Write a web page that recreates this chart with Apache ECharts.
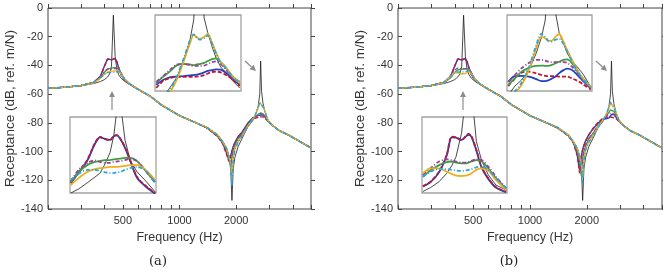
<!DOCTYPE html>
<html>
<head>
<meta charset="utf-8">
<script src="https://cdn.jsdelivr.net/npm/echarts@6/dist/echarts.min.js"></script>
<style>
  html, body { margin: 0; padding: 0; background: #fff; }
  #chart { width: 663px; height: 278px; }
</style>
</head>
<body>
<div id="chart"></div>
<script>
// main plots: frequency grid (Hz) shared by all curves
const freqMain = [200, 250, 300, 350, 380, 400, 415, 425, 435, 445, 455, 465, 475, 490, 510, 540, 600, 700, 800, 1000,
  1200, 1400, 1600, 1700, 1780, 1830, 1870, 1900, 1930, 1970, 2050, 2150, 2300, 2450, 2550, 2620, 2670, 2700, 2730, 2780,
  2850, 2950, 3100, 3400, 3800, 4300, 5000]

// undamped reference (same in both panels)
const blackCurve = [-56.0, -55.2, -54.2, -52.6, -51.2, -49.8, -48.0, -46.0, -40.5, -5.0,
  -34.0, -43.0, -46.5, -49.0, -51.0, -53.0, -56.5, -61.5, -67.5, -75.0,
  -79.5, -83.5, -88.5, -93.0, -97.5, -103.0, -110.0, -134.0, -112.0, -104.0,
  -96.5, -91.0, -83.0, -78.5, -73.5, -68.5, -60.0, -37.0, -58.0, -66.5,
  -72.5, -78.0, -81.5, -85.5, -88.5, -92.5, -97.5]

// panel (a)
const aBlue = [-56.0, -55.1, -54.0, -51.8, -47.5, -40.0, -35.4, -35.9, -36.1, -35.6,
  -35.3, -37.5, -41.5, -46.5, -50.0, -52.8, -56.5, -61.5, -67.5, -75.0,
  -79.5, -83.5, -89.5, -94.3, -101.0, -106.0, -103.0, -99.5, -96.5, -93.5,
  -89.5, -86.5, -80.5, -76.5, -75.5, -75.0, -74.6, -74.4, -74.3, -74.6,
  -76.0, -78.5, -81.5, -85.5, -88.5, -92.5, -97.5]
const aRed = [-56.0, -55.1, -54.0, -51.9, -47.8, -40.3, -35.5, -35.8, -36.0, -35.5,
  -35.2, -37.6, -41.7, -46.6, -50.0, -52.8, -56.5, -61.5, -67.5, -75.0,
  -79.5, -83.5, -89.7, -94.7, -102.0, -107.0, -103.5, -100.0, -97.0, -94.0,
  -90.0, -87.0, -81.0, -77.5, -76.5, -76.3, -76.0, -75.8, -75.6, -75.8,
  -76.8, -78.8, -81.5, -85.5, -88.5, -92.5, -97.5]
const aGreen = [-56.0, -55.1, -54.0, -52.0, -48.5, -44.5, -42.4, -42.0, -41.9, -41.7,
  -41.5, -41.4, -42.3, -45.5, -49.5, -52.6, -56.5, -61.5, -67.5, -75.0,
  -79.5, -83.3, -89.0, -93.8, -99.0, -104.0, -111.0, -104.0, -99.0, -95.5,
  -91.0, -88.0, -82.0, -77.5, -75.5, -74.0, -73.2, -73.0, -73.0, -73.8,
  -75.5, -78.5, -81.5, -85.5, -88.5, -92.5, -97.5]
const aPurple = [-56.0, -55.1, -54.0, -51.9, -48.0, -44.0, -42.6, -42.6, -42.5, -42.3,
  -42.0, -41.7, -42.3, -45.5, -49.5, -52.6, -56.5, -61.5, -67.5, -75.0,
  -79.5, -83.3, -88.8, -93.6, -98.8, -103.5, -110.0, -103.5, -98.5, -95.0,
  -90.8, -87.8, -82.0, -77.6, -75.8, -74.5, -73.8, -73.6, -73.6, -74.2,
  -75.8, -78.6, -81.5, -85.5, -88.5, -92.5, -97.5]
const aOrange = [-56.0, -55.1, -54.1, -52.2, -49.0, -46.0, -44.6, -44.2, -44.0, -43.9,
  -43.8, -43.6, -43.8, -46.0, -49.5, -52.6, -56.5, -61.5, -67.5, -75.0,
  -79.5, -83.1, -88.5, -93.3, -98.0, -103.5, -108.0, -116.0, -105.0, -98.0,
  -93.0, -89.0, -82.5, -77.5, -73.5, -69.5, -66.0, -67.0, -66.0, -68.5,
  -72.5, -78.0, -81.5, -85.5, -88.5, -92.5, -97.5]
const aCyan = [-56.0, -55.1, -54.0, -52.0, -48.5, -46.0, -45.0, -45.0, -45.0, -44.9,
  -44.7, -44.3, -44.2, -46.0, -49.5, -52.6, -56.5, -61.5, -67.5, -75.0,
  -79.5, -83.1, -88.5, -93.3, -98.0, -103.0, -109.0, -124.0, -106.0, -99.0,
  -93.5, -89.5, -83.0, -77.8, -73.3, -69.0, -65.5, -67.0, -66.3, -69.0,
  -72.5, -78.0, -81.5, -85.5, -88.5, -92.5, -97.5]

// panel (b)
const bBlue = [-56.0, -55.1, -54.0, -51.8, -47.5, -40.0, -35.4, -35.8, -36.2, -35.5,
  -35.2, -37.5, -41.5, -46.5, -50.0, -52.8, -56.5, -61.5, -67.5, -75.0,
  -79.5, -83.5, -89.0, -93.8, -102.0, -113.0, -103.0, -98.5, -95.5, -92.5,
  -88.0, -84.5, -80.0, -77.5, -77.0, -76.5, -75.2, -74.2, -73.8, -74.2,
  -76.0, -78.5, -81.5, -85.5, -88.5, -92.5, -97.5]
const bRed = [-56.0, -55.1, -54.0, -51.9, -47.8, -40.3, -35.5, -35.8, -36.0, -35.4,
  -35.1, -37.6, -41.7, -46.6, -50.0, -52.8, -56.5, -61.5, -67.5, -75.0,
  -79.5, -83.5, -89.3, -94.3, -103.0, -115.0, -104.0, -99.0, -96.0, -93.0,
  -88.5, -84.0, -79.5, -76.5, -76.0, -75.8, -75.9, -76.1, -76.3, -76.5,
  -77.0, -78.8, -81.5, -85.5, -88.5, -92.5, -97.5]
const bGreen = [-56.0, -55.1, -54.0, -52.0, -48.5, -44.8, -43.0, -42.6, -42.7, -42.6,
  -42.3, -42.0, -42.4, -45.5, -49.5, -52.6, -56.5, -61.5, -67.5, -75.0,
  -79.5, -83.3, -88.8, -93.6, -100.0, -106.0, -117.0, -105.0, -100.0, -96.0,
  -91.0, -87.5, -82.0, -77.5, -74.5, -72.5, -71.0, -70.5, -70.6, -72.0,
  -74.5, -78.0, -81.5, -85.5, -88.5, -92.5, -97.5]
const bPurple = [-56.0, -55.1, -54.0, -51.8, -47.0, -43.0, -41.8, -41.8, -42.2, -42.3,
  -42.2, -41.8, -42.0, -45.2, -49.5, -52.6, -56.5, -61.5, -67.5, -75.0,
  -79.5, -83.3, -88.7, -93.5, -99.5, -105.0, -116.0, -104.5, -99.5, -95.5,
  -90.8, -87.3, -81.8, -77.3, -75.0, -73.5, -73.0, -73.0, -73.3, -74.0,
  -75.5, -78.3, -81.5, -85.5, -88.5, -92.5, -97.5]
const bOrange = [-56.0, -55.1, -54.1, -52.1, -47.5, -45.0, -45.2, -45.7, -46.0, -46.0,
  -45.6, -44.8, -44.3, -45.8, -49.5, -52.6, -56.5, -61.5, -67.5, -75.0,
  -79.5, -83.1, -88.5, -93.3, -98.0, -103.5, -108.5, -118.0, -106.0, -98.5,
  -93.0, -89.0, -82.5, -77.5, -73.5, -69.5, -66.5, -67.2, -66.2, -68.5,
  -72.5, -78.0, -81.5, -85.5, -88.5, -92.5, -97.5]
const bCyan = [-56.0, -55.1, -54.0, -52.0, -48.0, -45.0, -44.5, -44.5, -44.6, -44.5,
  -44.3, -43.9, -43.7, -45.8, -49.5, -52.6, -56.5, -61.5, -67.5, -75.0,
  -79.5, -83.1, -88.5, -93.3, -98.0, -103.0, -109.0, -122.0, -106.0, -99.0,
  -93.5, -89.5, -83.0, -77.8, -73.3, -68.8, -65.5, -67.0, -67.0, -69.5,
  -73.0, -78.0, -81.5, -85.5, -88.5, -92.5, -97.5]

// zoom insets around first peak (Hz) and second peak (Hz)
const freqInset1 = [352, 370, 390, 408, 420, 430, 443, 452, 459, 466, 478, 490, 506, 524, 548]
const freqInset2 = [2410, 2465, 2520, 2580, 2635, 2685, 2715, 2740, 2765, 2800, 2830, 2865, 2895, 2935, 2980, 3025, 3090]

const a1Black = [-51.0, -49.9, -48.2, -46.6, -45.5, -43.3, -39.9, -35.0, -28.0, -25.0, -36.4, -41.9, -45.2, -47.4, -50.7]
const a1Blue = [-48.3, -45.4, -42.1, -37.4, -35.6, -36.0, -36.3, -35.3, -35.1, -35.9, -38.5, -42.1, -46.8, -49.0, -51.2]
const a1Red = [-48.2, -45.2, -41.9, -37.2, -35.5, -36.1, -36.4, -35.2, -35.0, -35.8, -38.3, -41.9, -46.6, -48.8, -51.0]
const a1Green = [-48.0, -45.2, -43.3, -42.4, -42.2, -41.9, -41.9, -41.7, -41.6, -41.5, -41.3, -41.3, -42.2, -44.6, -48.0]
const a1Purple = [-47.7, -44.6, -42.7, -42.0, -42.4, -42.7, -42.7, -42.4, -42.3, -42.2, -41.9, -41.6, -42.2, -44.6, -48.2]
const a1Orange = [-48.8, -46.9, -45.2, -44.4, -44.1, -44.0, -43.8, -43.8, -43.8, -43.7, -43.5, -43.3, -43.3, -44.4, -47.4]
const a1Cyan = [-47.4, -45.7, -44.6, -44.6, -44.9, -45.2, -45.5, -45.5, -45.3, -45.2, -44.6, -44.1, -43.8, -44.6, -48.0]

const a2Black = [-85.7, -83.6, -81.2, -78.3, -73.8, -68.6, -63.3, -50.0, -40.0, -62.8, -66.7, -70.4, -73.1, -75.7, -77.3, -79.1, -81.2]
const a2Blue = [-80.4, -79.1, -78.4, -78.2, -78.1, -77.9, -77.8, -77.7, -77.5, -77.1, -76.7, -76.5, -76.3, -76.4, -77.3, -78.6, -80.4]
const a2Red = [-81.2, -79.4, -78.6, -78.3, -78.3, -78.3, -78.3, -78.2, -78.1, -77.8, -77.4, -77.0, -76.9, -77.1, -77.8, -78.8, -80.7]
const a2Green = [-80.0, -78.3, -76.9, -75.2, -74.9, -75.0, -75.2, -75.0, -74.9, -74.6, -74.1, -73.6, -73.4, -74.4, -75.9, -78.1, -79.6]
const a2Purple = [-79.6, -78.1, -76.5, -75.0, -74.9, -75.2, -75.4, -75.4, -75.4, -75.3, -74.9, -74.4, -74.2, -74.9, -76.5, -78.3, -79.9]
const a2Orange = [-87.0, -84.6, -82.5, -78.8, -74.1, -69.4, -67.3, -67.8, -68.3, -67.8, -66.9, -69.4, -71.7, -74.4, -75.9, -77.8, -79.9]
const a2Cyan = [-86.5, -84.0, -81.8, -78.0, -73.3, -68.6, -67.1, -68.1, -68.5, -68.1, -67.4, -69.6, -71.9, -74.6, -76.1, -78.0, -80.1]

const b1Black = [-50.6, -49.5, -47.9, -45.6, -43.5, -41.0, -34.5, -25.0, -15.0, -22.0, -36.8, -41.9, -46.0, -48.8, -50.2]
const b1Blue = [-49.2, -48.0, -45.3, -40.7, -35.6, -35.7, -36.3, -35.5, -34.9, -35.4, -39.3, -43.9, -47.1, -49.5, -50.8]
const b1Red = [-49.1, -47.9, -45.1, -40.5, -35.4, -35.6, -36.4, -35.4, -34.7, -35.2, -39.1, -43.7, -46.9, -49.4, -50.6]
const b1Green = [-46.5, -44.8, -43.3, -42.5, -42.3, -42.6, -42.8, -42.8, -42.6, -42.3, -41.9, -42.2, -44.2, -46.9, -50.0]
const b1Purple = [-46.0, -44.2, -42.3, -41.7, -41.9, -42.3, -42.6, -42.6, -42.4, -42.1, -41.7, -41.9, -43.7, -46.5, -49.7]
const b1Orange = [-45.6, -44.2, -44.2, -45.1, -45.7, -46.2, -46.3, -46.2, -46.0, -45.6, -44.6, -44.2, -44.8, -47.4, -50.2]
const b1Cyan = [-46.5, -45.1, -44.4, -44.4, -44.6, -44.8, -44.9, -44.8, -44.6, -44.4, -43.9, -43.7, -44.6, -46.9, -49.7]

const b2Black = [-83.1, -80.7, -79.1, -76.5, -72.5, -67.8, -63.3, -50.0, -40.0, -61.5, -66.7, -69.4, -72.0, -74.1, -75.7, -77.5, -80.9]
const b2Blue = [-79.6, -78.1, -78.0, -78.2, -78.8, -79.4, -79.4, -79.2, -78.8, -78.2, -77.3, -76.5, -76.1, -76.5, -77.8, -79.3, -81.3]
const b2Red = [-80.7, -78.7, -77.2, -76.9, -77.3, -77.8, -78.0, -78.1, -78.1, -78.1, -78.2, -78.2, -78.2, -78.7, -79.3, -80.2, -81.6]
const b2Green = [-80.4, -78.7, -76.9, -75.9, -75.4, -75.3, -75.4, -75.4, -75.2, -74.7, -74.3, -73.8, -73.7, -74.7, -76.9, -78.7, -80.9]
const b2Purple = [-79.6, -77.8, -76.0, -74.6, -73.8, -73.8, -74.0, -74.3, -74.4, -74.4, -74.4, -74.4, -74.6, -75.6, -77.3, -79.1, -81.0]
const b2Orange = [-84.4, -82.6, -80.4, -76.5, -71.2, -67.7, -68.1, -68.8, -68.8, -67.7, -67.0, -69.0, -71.2, -73.8, -76.5, -78.7, -80.9]
const b2Cyan = [-84.0, -82.2, -79.8, -75.8, -70.5, -66.9, -67.8, -68.8, -69.0, -68.5, -68.3, -69.6, -71.6, -74.1, -76.7, -78.9, -81.1]

// axis ticks
const xTickValues = [200, 300, 400, 500, 600, 700, 800, 900, 1000, 2000, 3000, 4000, 5000]
const xLabelValues = [500, 1000, 2000]
const yMin = -140
const yMax = 0
const yStep = 20

const fontFamily = '"Liberation Sans", Arial, Helvetica, sans-serif'
const axisColor = '#444'
const textColor = '#333'

const lineStyles = {
  black: { color: '#1a1a1a', width: 0.8, type: 'solid' },
  blue: { color: '#1f3fc4', width: 1.4, type: 'solid' },
  red: { color: '#c0182f', width: 1.4, type: [4, 2] },
  green: { color: '#3e9e3e', width: 1.4, type: 'solid' },
  purple: { color: '#9b3ea0', width: 1.4, type: [4, 2, 1, 2] },
  orange: { color: '#f0ae1e', width: 1.4, type: 'solid' },
  cyan: { color: '#2aa6d8', width: 1.4, type: [4, 2, 1, 2] },
}
const drawOrder = ['black', 'blue', 'red', 'green', 'purple', 'orange', 'cyan']

const panels = [
  {
    main: { black: blackCurve, blue: aBlue, red: aRed, green: aGreen, purple: aPurple, orange: aOrange, cyan: aCyan },
    ins1: { black: a1Black, blue: a1Blue, red: a1Red, green: a1Green, purple: a1Purple, orange: a1Orange, cyan: a1Cyan },
    ins2: { black: a2Black, blue: a2Blue, red: a2Red, green: a2Green, purple: a2Purple, orange: a2Orange, cyan: a2Cyan },
  },
  {
    main: { black: blackCurve, blue: bBlue, red: bRed, green: bGreen, purple: bPurple, orange: bOrange, cyan: bCyan },
    ins1: { black: b1Black, blue: b1Blue, red: b1Red, green: b1Green, purple: b1Purple, orange: b1Orange, cyan: b1Cyan },
    ins2: { black: b2Black, blue: b2Blue, red: b2Red, green: b2Green, purple: b2Purple, orange: b2Orange, cyan: b2Cyan },
  },
]

const zip = (xs, ys) => xs.map((x, i) => [x, ys[i]])

const chart = echarts.init(document.getElementById('chart'), null, { renderer: 'canvas' })

const grids = [
  { left: 48, top: 8, width: 263, height: 201 },
  { left: 398, top: 8, width: 264, height: 201 },
].map((g) => ({ ...g, show: true, borderColor: axisColor, borderWidth: 1, backgroundColor: 'transparent' }))

const insetGrids = [
  { left: 70, top: 117, width: 86, height: 76 },
  { left: 155, top: 15, width: 86, height: 76 },
  { left: 422, top: 117, width: 85, height: 76 },
  { left: 507, top: 15, width: 85, height: 76 },
].map((g) => ({ ...g, show: true, z: 10, backgroundColor: '#fff', borderColor: '#a3a3a3', borderWidth: 1.3 }))

const xAxes = []
const yAxes = []
const series = []

panels.forEach((panel, p) => {
  // bottom + top frequency axes (the mirrored ones only carry ticks)
  ;[false, true].forEach((top) => {
    xAxes.push({
      type: 'log',
      logBase: 10,
      gridIndex: p,
      min: 200,
      max: 5000,
      position: top ? 'top' : 'bottom',
      axisLine: { show: false, onZero: false },
      splitLine: { show: false },
      axisTick: { show: true, inside: !top, length: 4, customValues: xTickValues, lineStyle: { color: axisColor } },
      axisLabel: top
        ? { show: false }
        : {
            show: true,
            customValues: xLabelValues,
            margin: 6,
            color: textColor,
            fontSize: 11,
            fontFamily,
            formatter: (v) => String(Math.round(v)),
          },
      name: top ? '' : 'Frequency (Hz)',
      nameLocation: 'middle',
      nameGap: 22,
      nameTextStyle: { color: textColor, fontSize: 12.5, fontFamily },
    })
  })
  // left + right receptance axes
  ;[false, true].forEach((right) => {
    yAxes.push({
      type: 'value',
      gridIndex: p,
      min: yMin,
      max: yMax,
      interval: yStep,
      position: right ? 'right' : 'left',
      axisLine: { show: false, onZero: false },
      splitLine: { show: false },
      axisTick: { show: true, inside: !right, length: 4, lineStyle: { color: axisColor } },
      axisLabel: right
        ? { show: false }
        : { show: true, margin: 5, color: textColor, fontSize: 11, fontFamily },
      name: right ? '' : 'Receptance (dB, ref. m/N)',
      nameLocation: 'middle',
      nameGap: 31,
      nameTextStyle: { color: textColor, fontSize: 13.5, fontFamily },
    })
  })
  drawOrder.forEach((key) => {
    series.push({
      type: 'line',
      xAxisIndex: p * 2,
      yAxisIndex: p * 2,
      data: zip(freqMain, panel.main[key]),
      showSymbol: false,
      symbol: 'none',
      lineStyle: lineStyles[key],
      z: 2,
      silent: true,
    })
  })
})

const insetRanges = [
  { xMin: 350, xMax: 550, yMin: -51, yMax: -30, freq: freqInset1, part: 'ins1' },
  { xMin: 2400, xMax: 3100, yMin: -82, yMax: -62, freq: freqInset2, part: 'ins2' },
]

panels.forEach((panel, p) => {
  insetRanges.forEach((r, k) => {
    const gi = 2 + p * 2 + k
    const ax = xAxes.length
    xAxes.push({ type: 'value', gridIndex: gi, min: r.xMin, max: r.xMax, show: false })
    yAxes.push({ type: 'value', gridIndex: gi, min: r.yMin, max: r.yMax, show: false })
    drawOrder.forEach((key) => {
      const st = lineStyles[key]
      series.push({
        type: 'line',
        xAxisIndex: ax,
        yAxisIndex: ax,
        data: zip(r.freq, panel[r.part][key]),
        showSymbol: false,
        symbol: 'none',
        smooth: key === 'black' ? false : 0.3,
        lineStyle: { ...st, width: key === 'black' ? 0.8 : 1.8 },
        z: 11,
        silent: true,
      })
    })
  })
})

function arrow(x1, y1, x2, y2) {
  const ang = Math.atan2(y2 - y1, x2 - x1)
  const hl = 6
  const hw = 3
  const bx = x2 - hl * Math.cos(ang)
  const by = y2 - hl * Math.sin(ang)
  const nx = -Math.sin(ang) * hw
  const ny = Math.cos(ang) * hw
  return {
    type: 'group',
    z: 20,
    children: [
      { type: 'line', shape: { x1, y1, x2: bx, y2: by }, style: { stroke: '#8c8c8c', lineWidth: 1.2 } },
      {
        type: 'polygon',
        shape: { points: [[x2, y2], [bx + nx, by + ny], [bx - nx, by - ny]] },
        style: { fill: '#8c8c8c' },
      },
    ],
  }
}

const captionStyle = { fill: '#222', font: '13px "DejaVu Serif", serif', textAlign: 'center', textVerticalAlign: 'middle' }

const option = {
  animation: false,
  backgroundColor: '#fff',
  grid: [...grids, ...insetGrids],
  xAxis: xAxes,
  yAxis: yAxes,
  series,
  graphic: [
    arrow(112, 110, 112, 91),
    arrow(245, 61, 256, 71),
    arrow(463, 110, 463, 91),
    arrow(596, 61, 607, 71),
    { type: 'text', x: 158, y: 262, style: { ...captionStyle, text: '(a)' } },
    { type: 'text', x: 509, y: 262, style: { ...captionStyle, text: '(b)' } },
  ],
}

chart.setOption(option)
</script>
</body>
</html>
